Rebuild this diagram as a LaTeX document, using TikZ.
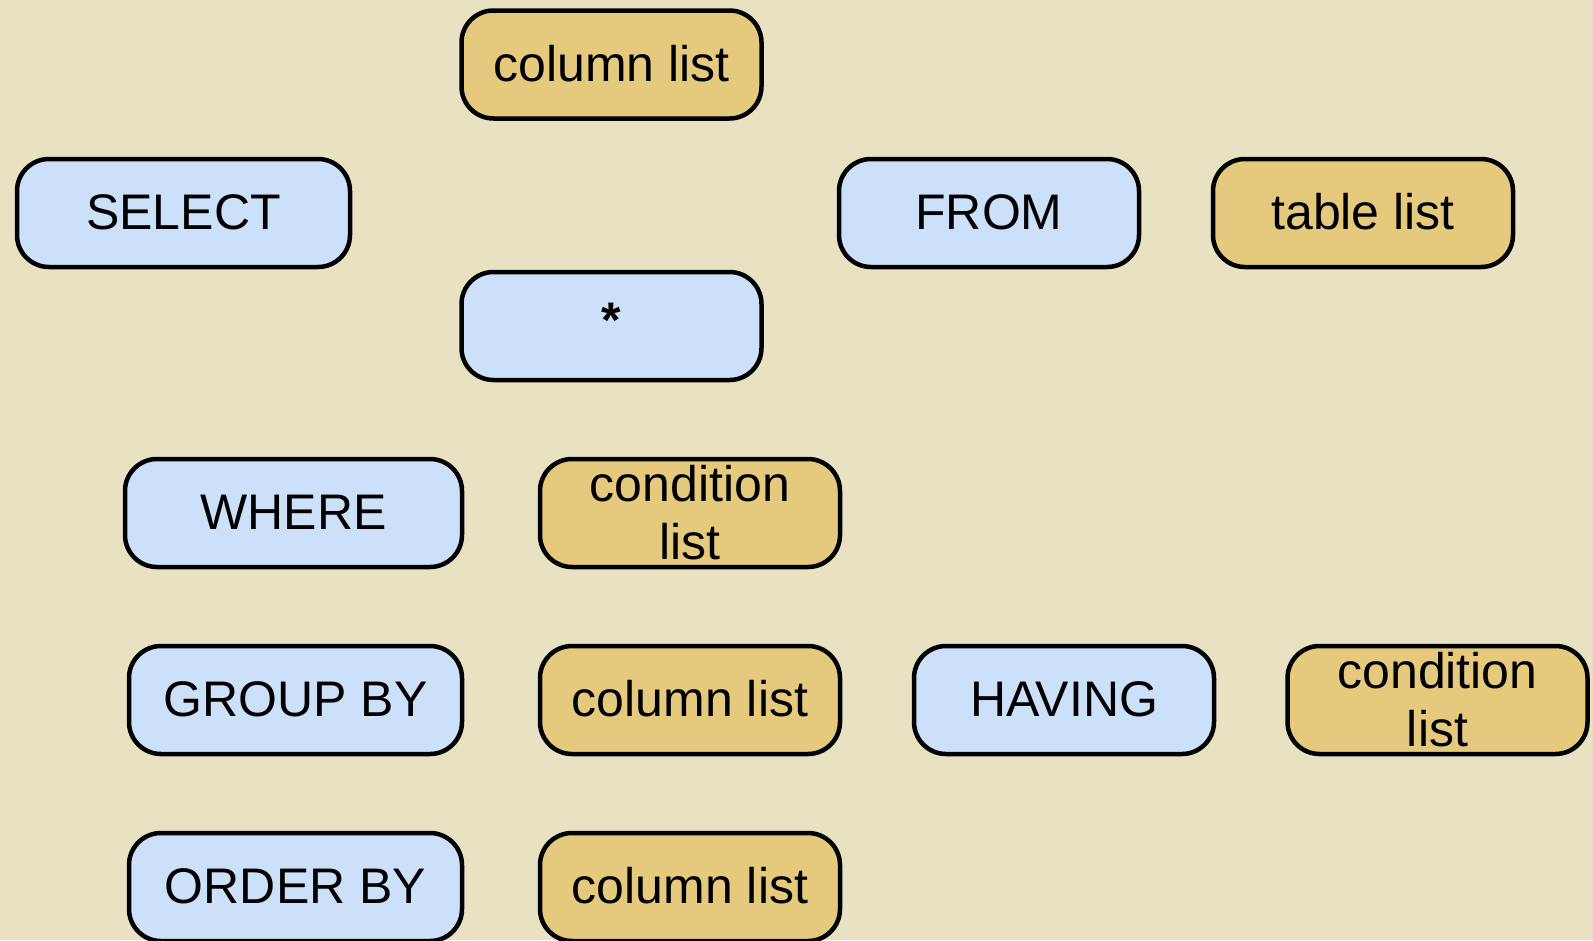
\documentclass[tikz,border=0pt]{standalone}
\usepackage{fontspec}
\setmainfont{Liberation Sans}
\definecolor{bgbeige}{HTML}{E9E2C2}
\definecolor{kwblue}{HTML}{CDE0FA}
\definecolor{argold}{HTML}{E5C97D}
\tikzset{
  sqlbox/.style={draw=black, line width=4.5pt, rounded corners=32pt,
    minimum height=108pt, inner sep=0pt, align=center,
    font=\fontsize{50}{60}\selectfont},
  kwbox/.style={sqlbox, fill=kwblue},
  argbox/.style={sqlbox, fill=argold},
  oneline/.style={text height=33pt, text depth=0pt}
}
\begin{document}
\begin{tikzpicture}[x=1pt,y=-1pt]
\fill[bgbeige] (0,0) rectangle (1593,940);
\useasboundingbox (0,0) rectangle (1593,940);
\begin{scope}
\clip (0,0) rectangle (1593,940);
\node[argbox, oneline, minimum width=300pt] (cl1) at (611.5,64.5) {column list};
\node[kwbox, oneline, minimum width=333pt] (sel) at (183.5,213) {SELECT};
\node[kwbox, oneline, minimum width=300pt] (from) at (989,213) {FROM};
\node[argbox, oneline, minimum width=300pt] (tl) at (1363,213) {table list};
\node[kwbox, oneline, minimum width=300pt] (star) at (611.5,326) {\raisebox{5pt}{\textbf{*}}};
\node[kwbox, oneline, minimum width=337pt] (where) at (293.5,513) {WHERE};
\node[argbox, minimum width=300pt] (cond1) at (690,513) {\raisebox{2pt}{condition}\\[-2pt]\raisebox{2pt}{list}};
\node[kwbox, oneline, minimum width=333pt] (group) at (295.5,700) {GROUP BY};
\node[argbox, oneline, minimum width=300pt] (cl2) at (690,700) {column list};
\node[kwbox, oneline, minimum width=300pt] (having) at (1064,700) {HAVING};
\node[argbox, minimum width=300pt] (cond2) at (1437.5,700) {\raisebox{2pt}{condition}\\[-2pt]\raisebox{2pt}{list}};
\node[kwbox, oneline, minimum width=333pt] (order) at (295.5,887) {ORDER BY};
\node[argbox, oneline, minimum width=300pt] (cl3) at (690,887) {column list};
\end{scope}
\end{tikzpicture}
\end{document}
